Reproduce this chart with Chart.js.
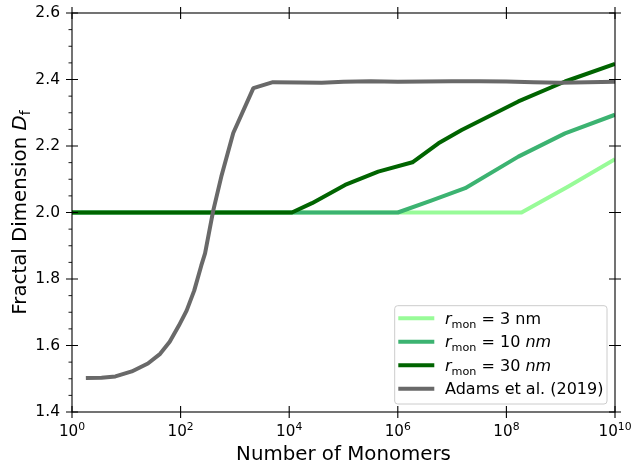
<!DOCTYPE html>
<html><head><meta charset="utf-8">
<script src="https://cdn.jsdelivr.net/npm/chart.js@4"></script>
<style>html,body{margin:0;padding:0;background:#fff}#wrap{width:632px;height:466px}</style>
</head><body><div id="wrap"><canvas id="c" width="632" height="466"></canvas></div>
<script>
// ---- tick labels ----
const xTicks = [1, 1e2, 1e4, 1e6, 1e8, 1e10];
const xTickBase = '10';
const xTickExponents = ['0', '2', '4', '6', '8', '10'];
const yTicks = [1.4, 1.6, 1.8, 2.0, 2.2, 2.4, 2.6];
const yMinorTicks = [1.45, 1.5, 1.55, 1.65, 1.7, 1.75, 1.85, 1.9, 1.95, 2.05, 2.1, 2.15, 2.25, 2.3, 2.35, 2.45, 2.5, 2.55];

// ---- series ----
const seriesNames = ['r_mon = 3 nm', 'r_mon = 10 nm', 'r_mon = 30 nm', 'Adams et al. (2019)'];

const r3N  = [1, 1.9e8, 1.38e9, 1e10];
const r3Df = [2.0, 2.0, 2.078, 2.160];

const r10N  = [1, 1e6, 4e6, 1.74e7, 1.66e8, 1.2e9, 1e10];
const r10Df = [2.0, 2.0, 2.035, 2.073, 2.168, 2.238, 2.294];

const r30N  = [1, 1.12e4, 2.63e4, 1.07e5, 4.36e5, 1.86e6, 5.6e6, 1.5e7, 1.66e8, 1.2e9, 1e10];
const r30Df = [2.0, 2.0, 2.028, 2.083, 2.123, 2.151, 2.208, 2.248, 2.334, 2.394, 2.447];

const adamsN  = [1.8, 3.5, 6.3, 12.6, 25, 42, 63, 93, 129, 178, 240, 282, 398, 562, 933, 2188, 5012, 15850,
                 39810, 1e5, 3.16e5, 1e6, 3.16e6, 1e7, 3.16e7, 1e8, 3.16e8, 1e9, 3.16e9, 1e10];
const adamsDf = [1.502, 1.503, 1.507, 1.522, 1.546, 1.575, 1.611, 1.660, 1.705, 1.765, 1.840, 1.877, 2.005, 2.108, 2.239, 2.374, 2.392, 2.391,
                 2.390, 2.393, 2.395, 2.393, 2.394, 2.395, 2.395, 2.394, 2.392, 2.390, 2.392, 2.393];

const colors = ['#98FB98', '#3CB371', '#006400', '#696969'];

const FONT = "'DejaVu Sans'";
function pts(xs, ys) { return xs.map((v, i) => ({x: v, y: ys[i]})); }

function ds(label, xs, ys, color, order) {
  return {label, data: pts(xs, ys), borderColor: color, backgroundColor: color, borderWidth: 4,
          pointRadius: 0, tension: 0, showLine: true, fill: false, order, clip: 0,
          borderCapStyle: 'butt', borderJoinStyle: 'round'};
}

function fontOf(s) { return (s.italic ? 'italic ' : '') + s.size + 'px ' + FONT; }
function richWidth(ctx, segs) {
  let w = 0;
  for (const s of segs) { ctx.font = fontOf(s); w += ctx.measureText(s.t).width; }
  return w;
}
function drawRich(ctx, segs, x, y) {
  for (const s of segs) {
    ctx.font = fontOf(s);
    ctx.fillText(s.t, x, y + (s.dy || 0));
    x += ctx.measureText(s.t).width;
  }
}

const decor = {
  id: 'decor',
  afterDraw(chart) {
    const ctx = chart.ctx;
    const {left, right, top, bottom} = chart.chartArea;
    const xs = chart.scales.x, ys = chart.scales.y;
    ctx.save();
    // spines
    ctx.strokeStyle = '#000';
    ctx.lineWidth = 1.1;
    ctx.strokeRect(left, top, right - left, bottom - top);
    // major ticks (in-out)
    ctx.beginPath();
    for (const v of xTicks) {
      const px = xs.getPixelForValue(v);
      ctx.moveTo(px, bottom - 6); ctx.lineTo(px, bottom + 6);
      ctx.moveTo(px, top - 6); ctx.lineTo(px, top + 6);
    }
    for (const v of yTicks) {
      const py = ys.getPixelForValue(v);
      ctx.moveTo(left - 6, py); ctx.lineTo(left + 6, py);
      ctx.moveTo(right - 6, py); ctx.lineTo(right + 6, py);
    }
    ctx.stroke();
    // minor ticks on left (out)
    ctx.beginPath();
    ctx.lineWidth = 0.9;
    for (const v of yMinorTicks) {
      const py = ys.getPixelForValue(v);
      ctx.moveTo(left - 3.5, py); ctx.lineTo(left, py);
    }
    ctx.stroke();

    ctx.fillStyle = '#000';
    ctx.textBaseline = 'alphabetic';
    ctx.textAlign = 'left';
    // x tick labels 10^n
    for (let i = 0; i < xTicks.length; i++) {
      const px = xs.getPixelForValue(xTicks[i]);
      const segs = [{t: xTickBase, size: 15.2}, {t: xTickExponents[i], size: 10.8, dy: -6}];
      const w = richWidth(ctx, segs);
      drawRich(ctx, segs, px - w / 2, 436);
    }
    // x axis title
    const xt = [{t: 'Number of Monomers', size: 19.8}];
    const xw = richWidth(ctx, xt);
    drawRich(ctx, xt, (left + right) / 2 - xw / 2, 460);
    // y axis title
    const yt = [{t: 'Fractal Dimension ', size: 19.8}, {t: 'D', size: 19.8, italic: true}, {t: 'f', size: 14, dy: 4}];
    const yw = richWidth(ctx, yt);
    ctx.save();
    ctx.translate(26, (top + bottom) / 2);
    ctx.rotate(-Math.PI / 2);
    drawRich(ctx, yt, -yw / 2, 0);
    ctx.restore();

    // legend
    const bx = 394.7, by = 305.7, bw = 212.3, bh = 98.3, r = 3;
    ctx.beginPath();
    ctx.moveTo(bx + r, by);
    ctx.arcTo(bx + bw, by, bx + bw, by + bh, r);
    ctx.arcTo(bx + bw, by + bh, bx, by + bh, r);
    ctx.arcTo(bx, by + bh, bx, by, r);
    ctx.arcTo(bx, by, bx + bw, by, r);
    ctx.closePath();
    ctx.fillStyle = 'rgba(255,255,255,0.8)';
    ctx.fill();
    ctx.strokeStyle = '#cccccc';
    ctx.lineWidth = 1;
    ctx.stroke();

    const rowsY = [318.3, 341.8, 365.3, 388.8];
    const F = 16, S = 11.2;
    const labels = [
      [{t: 'r', size: F, italic: true}, {t: 'mon', size: S, dy: 4}, {t: ' = 3 nm', size: F}],
      [{t: 'r', size: F, italic: true}, {t: 'mon', size: S, dy: 4}, {t: ' = 10 ', size: F}, {t: 'nm', size: F, italic: true}],
      [{t: 'r', size: F, italic: true}, {t: 'mon', size: S, dy: 4}, {t: ' = 30 ', size: F}, {t: 'nm', size: F, italic: true}],
      [{t: seriesNames[3], size: F}]
    ];
    for (let i = 0; i < 4; i++) {
      const ly = rowsY[i];
      ctx.strokeStyle = colors[i];
      ctx.lineWidth = 4;
      ctx.beginPath();
      ctx.moveTo(398.3, ly); ctx.lineTo(434.3, ly);
      ctx.stroke();
      ctx.fillStyle = '#000';
      drawRich(ctx, labels[i], 445, ly + 5.5);
    }
    ctx.restore();
  }
};

new Chart(document.getElementById('c'), {
  type: 'scatter',
  data: {
    datasets: [
      ds(seriesNames[3], adamsN, adamsDf, colors[3], 0),
      ds(seriesNames[2], r30N, r30Df, colors[2], 1),
      ds(seriesNames[1], r10N, r10Df, colors[1], 2),
      ds(seriesNames[0], r3N, r3Df, colors[0], 3)
    ]
  },
  options: {
    responsive: false,
    animation: false,
    devicePixelRatio: 1,
    layout: {padding: {top: 13, right: 17, left: 0, bottom: 0}},
    plugins: {legend: {display: false}, tooltip: {enabled: false}},
    scales: {
      x: {
        type: 'logarithmic', min: 1, max: 1e10,
        grid: {display: false, drawTicks: false},
        border: {display: false},
        afterBuildTicks: s => { s.ticks = xTicks.map(v => ({value: v})); },
        afterFit: s => { s.height = 54; s.paddingLeft = 0; s.paddingRight = 0; },
        ticks: {display: false}
      },
      y: {
        type: 'linear', min: 1.4, max: 2.6,
        grid: {display: false, drawTicks: false},
        border: {display: false},
        afterBuildTicks: s => { s.ticks = yTicks.map(v => ({value: v})); },
        afterFit: s => { s.width = 72; s.paddingTop = 0; s.paddingBottom = 0; },
        ticks: {
          color: '#000', padding: 12, autoSkip: false,
          font: {family: FONT, size: 15.5},
          callback: (v) => Number(v).toFixed(1)
        }
      }
    }
  },
  plugins: [decor]
});
</script>
</body></html>
